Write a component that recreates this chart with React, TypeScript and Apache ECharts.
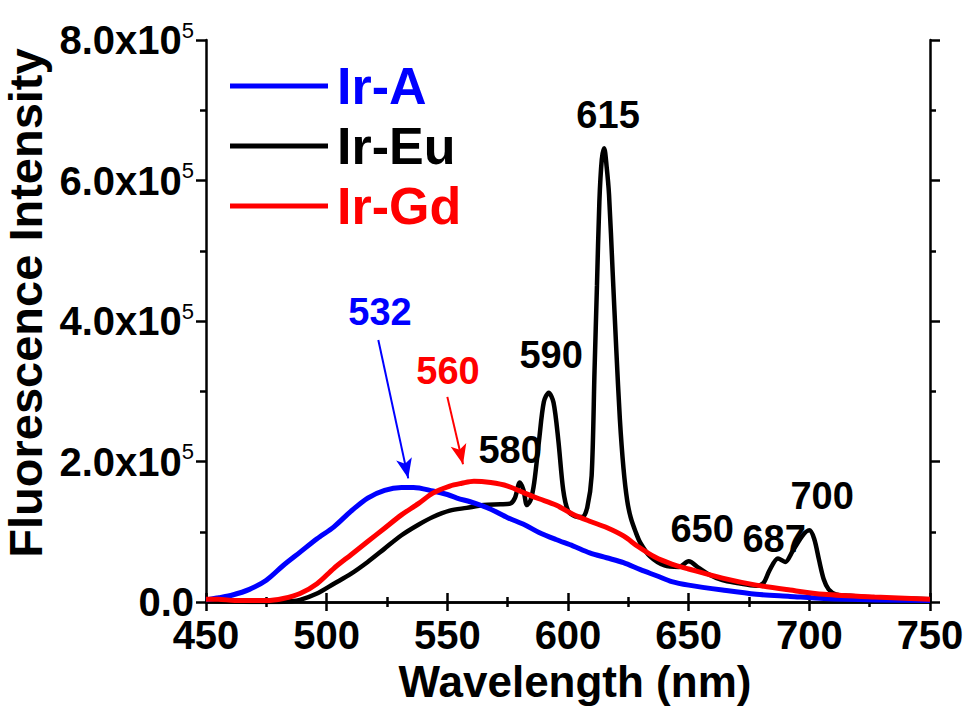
import React, { useEffect, useRef } from "react";
import * as echarts from "echarts";

// Wavelength (nm) and intensity (x10^5)
const irAWavelength = [450, 455, 461, 468, 475, 482, 489, 496, 503, 510, 517, 524, 531, 536, 544, 550, 554, 561, 568, 575, 582, 588, 595, 602, 609, 616, 623, 630, 637, 643, 650, 664, 678, 692, 706, 727, 750];
const irAIntensity = [0.03, 0.06, 0.1, 0.18, 0.31, 0.52, 0.71, 0.9, 1.07, 1.29, 1.48, 1.59, 1.63, 1.63, 1.58, 1.53, 1.48, 1.41, 1.32, 1.2, 1.1, 0.99, 0.89, 0.8, 0.7, 0.63, 0.56, 0.46, 0.37, 0.29, 0.24, 0.17, 0.11, 0.08, 0.05, 0.03, 0.02];

const irEuWavelength = [450, 460, 470, 480, 485, 489, 496, 503, 510, 517, 524, 531, 538, 544, 551, 558, 565, 572, 576, 578, 580, 581.5, 583, 584.5, 586, 588, 590, 592, 594, 596, 598, 600, 603, 606, 608, 609.8, 611, 612, 613, 614, 615, 616, 617, 618.5, 620, 621.5, 623, 624.5, 626, 628, 630, 634, 640, 646, 650, 654, 658, 664, 670, 678, 681, 683.5, 687, 690, 693, 697.5, 700, 702, 704, 706, 708, 711, 716, 727, 740, 750];
const irEuIntensity = [0.02, 0.01, 0.0, 0.0, 0.01, 0.03, 0.12, 0.26, 0.4, 0.57, 0.76, 0.95, 1.1, 1.21, 1.3, 1.34, 1.38, 1.39, 1.4, 1.48, 1.7, 1.6, 1.38, 1.45, 1.7, 2.3, 2.85, 2.98, 2.84, 2.3, 1.6, 1.3, 1.22, 1.21, 1.35, 1.8, 3.3, 4.5, 5.7, 6.3, 6.46, 6.2, 5.8, 4.7, 3.6, 2.6, 1.9, 1.45, 1.2, 1.0, 0.84, 0.65, 0.52, 0.5, 0.58, 0.49, 0.4, 0.31, 0.27, 0.23, 0.27, 0.45, 0.62, 0.57, 0.72, 0.96, 1.02, 0.9, 0.6, 0.32, 0.18, 0.11, 0.09, 0.06, 0.05, 0.04];

const irGdWavelength = [450, 455, 462, 470, 475, 482, 489, 496, 503, 510, 517, 524, 531, 538, 544, 551, 556, 561, 568, 575, 582, 588, 595, 602, 609, 616, 623, 629, 636, 643, 650, 664, 678, 692, 706, 727, 750];
const irGdIntensity = [0.04, 0.04, 0.02, 0.02, 0.02, 0.05, 0.12, 0.26, 0.48, 0.67, 0.86, 1.05, 1.24, 1.4, 1.55, 1.65, 1.69, 1.72, 1.7, 1.65, 1.55, 1.47, 1.38, 1.25, 1.15, 1.06, 0.94, 0.79, 0.64, 0.54, 0.47, 0.34, 0.24, 0.17, 0.11, 0.07, 0.04];

const seriesNames = ["Ir-A", "Ir-Eu", "Ir-Gd"];
const seriesColors = ["#0000ff", "#000000", "#ff0000"];

// Peak annotations: text, anchor wavelength, anchor intensity, colour
const peakLabels = ["532", "560", "580", "590", "615", "650", "687", "700"];
const peakLabelX = [522.1, 550.3, 576.0, 593.0, 616.6, 655.6, 685.4, 705.3];
const peakLabelY = [4.13, 3.29, 2.17, 3.51, 6.93, 1.04, 0.9, 1.51];
const peakLabelColors = ["#0000ff", "#ff0000", "#000000", "#000000", "#000000", "#000000", "#000000", "#000000"];

// Arrows: [start wavelength, start intensity, end wavelength, end intensity]
const arrowStartX = [521.4, 550.0];
const arrowStartY = [3.73, 2.92];
const arrowEndX = [533.8, 556.5];
const arrowEndY = [1.76, 1.96];
const arrowColors = ["#0000ff", "#ff0000"];

const FONT = "'Liberation Sans', Arial, sans-serif";

const zip = (xs: number[], ys: number[]) => xs.map((x, i) => [x, ys[i]]);

export default function App() {
  const ref = useRef<HTMLDivElement>(null);
  useEffect(() => {
    if (!ref.current) return;
    const chart = echarts.init(ref.current, undefined, { renderer: "svg" });
    const axisLineStyle = { color: "#000", width: 2.5 };
    const lineSeries = (name: string, xs: number[], ys: number[], color: string, width: number) => ({
      name,
      type: "line",
      data: zip(xs, ys),
      showSymbol: false,
      symbol: "none",
      smooth: 0.3,
      lineStyle: { color, width },
      itemStyle: { color },
    });
    chart.setOption({
      animation: false,
      backgroundColor: "#fff",
      grid: { left: 206, right: 43, top: 40, bottom: 118, containLabel: false, outerBoundsMode: "none" },
      legend: {
        orient: "vertical",
        left: 225,
        top: 54,
        itemWidth: 98,
        itemHeight: 24,
        itemGap: 6,
        icon: "path://M0,0 L98,0 L98,5 L0,5 Z",
        data: seriesNames.map((n, i) => ({
          name: n,
          itemStyle: { color: seriesColors[i] },
          textStyle: { color: seriesColors[i] },
        })),
        textStyle: { fontFamily: FONT, fontSize: 52, fontWeight: "bold", lineHeight: 54, padding: [0, 0, 0, 4] },
      },
      xAxis: [
        {
          type: "value",
          min: 450,
          max: 750,
          interval: 50,
          name: "Wavelength (nm)",
          nameLocation: "middle",
          nameGap: 52,
          nameTextStyle: { fontFamily: FONT, fontSize: 44, fontWeight: "bold", color: "#000", padding: [0, 0, 0, 14] },
          axisLine: { lineStyle: axisLineStyle },
          axisTick: { show: true, inside: false, length: 9, lineStyle: axisLineStyle },
          minorTick: { show: true, splitNumber: 2, length: 5, lineStyle: axisLineStyle },
          axisLabel: { fontFamily: FONT, fontSize: 40, fontWeight: "bold", color: "#000", margin: 13 },
          splitLine: { show: false },
        },
        {
          type: "value",
          position: "top",
          min: 450,
          max: 750,
          interval: 50,
          axisLine: { show: true, lineStyle: axisLineStyle },
          axisTick: { show: true, inside: false, length: 9, lineStyle: axisLineStyle },
          minorTick: { show: true, splitNumber: 2, length: 5, lineStyle: axisLineStyle },
          axisLabel: { show: false },
          splitLine: { show: false },
        },
      ],
      yAxis: [
        {
          type: "value",
          min: 0,
          max: 8,
          interval: 2,
          name: "Fluorescence Intensity",
          nameLocation: "middle",
          nameGap: 152,
          nameTextStyle: { fontFamily: FONT, fontSize: 47, fontWeight: "bold", color: "#000", padding: [0, 0, 0, 36] },
          axisLine: { show: true, lineStyle: axisLineStyle },
          axisTick: { show: true, inside: false, length: 10, lineStyle: axisLineStyle },
          minorTick: { show: true, splitNumber: 2, length: 6, lineStyle: axisLineStyle },
          axisLabel: {
            margin: 12,
            formatter: (v: number) => (v === 0 ? "{m|0.0}" : `{m|${v.toFixed(1)}x10}{e|5}`),
            rich: {
              m: { fontFamily: FONT, fontSize: 40, fontWeight: "bold", color: "#000" },
              e: { fontFamily: FONT, fontSize: 22, color: "#000", padding: [0, 0, 20, 0] },
            },
          },
          splitLine: { show: false },
        },
        {
          type: "value",
          position: "right",
          min: 0,
          max: 8,
          interval: 2,
          axisLine: { show: true, lineStyle: axisLineStyle },
          axisTick: { show: true, inside: false, length: 10, lineStyle: axisLineStyle },
          minorTick: { show: true, splitNumber: 2, length: 6, lineStyle: axisLineStyle },
          axisLabel: { show: false },
          splitLine: { show: false },
        },
      ],
      series: [
        lineSeries(seriesNames[1], irEuWavelength, irEuIntensity, seriesColors[1], 4.5),
        lineSeries(seriesNames[0], irAWavelength, irAIntensity, seriesColors[0], 5),
        lineSeries(seriesNames[2], irGdWavelength, irGdIntensity, seriesColors[2], 5),
        {
          name: "annotations",
          type: "scatter",
          symbolSize: 0,
          silent: true,
          itemStyle: { opacity: 1 },
          data: peakLabels.map((t, i) => ({
            name: t,
            value: [peakLabelX[i], peakLabelY[i]],
            label: { color: peakLabelColors[i] },
          })),
          label: {
            show: true,
            position: "inside",
            formatter: (p: any) => p.name,
            fontFamily: FONT,
            fontSize: 38,
            fontWeight: "bold",
          },
          markLine: {
            silent: true,
            symbol: ["none", "arrow"],
            symbolSize: [12, 20],
            label: { show: false },
            data: arrowStartX.map((x, i) => [
              { coord: [x, arrowStartY[i]], lineStyle: { color: arrowColors[i], width: 2, type: "solid", opacity: 1 } },
              { coord: [arrowEndX[i], arrowEndY[i]] },
            ]),
          },
        },
      ],
    });
    return () => chart.dispose();
  }, []);
  return <div ref={ref} style={{ width: 973, height: 720, position: "absolute", left: 0, top: 0 }} />;
}
